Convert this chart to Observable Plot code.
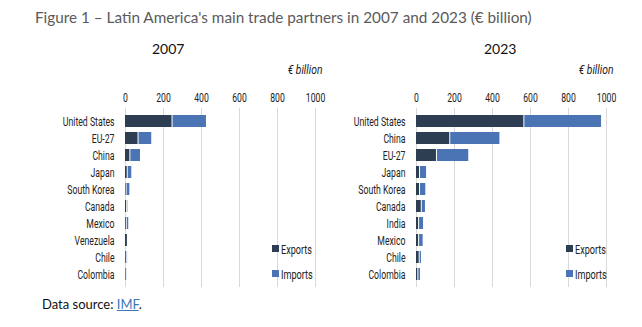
<!DOCTYPE html>
<html><head><meta charset="utf-8">
<script src="https://cdn.jsdelivr.net/npm/d3@7"></script>
<script src="https://cdn.jsdelivr.net/npm/@observablehq/plot@0.6"></script>
<style>
body{margin:0;background:#fff;}
#wrap{position:relative;width:642px;height:327px;overflow:hidden;font-family:Roboto,sans-serif;color:#222;}
.abs{position:absolute;white-space:nowrap;line-height:1;}
.title{font-family:Lato,sans-serif;font-size:15.3px;color:#5a5a5a;left:35px;top:10px;}
.year{font-family:Lato,sans-serif;font-size:14px;color:#111;}
.unit{font-style:italic;font-size:12px;color:#222;transform:scaleX(0.86);transform-origin:right center;}
.leg{font-size:13px;color:#222;transform:scaleX(0.7);transform-origin:left center;}
.sw{position:absolute;width:6.5px;height:6.5px;}
.src{font-family:Lato,sans-serif;font-size:13px;color:#111;left:42px;top:298px;}
.src a{color:#3a78b5;text-decoration:underline;}
</style></head><body><div id="wrap"></div>
<script>
const partners2007 = ["United States","EU-27","China","Japan","South Korea","Canada","Mexico","Venezuela","Chile","Colombia"];
const exports2007 = [245,66,23,9,3,6,4,10,4,3];
const imports2007 = [181,72,56,24,20,7,13,4,7,6];
const partners2023 = ["United States","China","EU-27","Japan","South Korea","Canada","India","Mexico","Chile","Colombia"];
const exports2023 = [565,175,105,16,16,25,11,11,14,7];
const imports2023 = [409,264,170,37,33,22,26,24,12,14];
const xTicks = [0,200,400,600,800,1000];
const seriesNames = ["Exports","Imports"];
const colExp = "#2d3d52", colImp = "#4a74b4";

const wrap = document.getElementById("wrap");
function addDiv(cls, html, style){
  const d = document.createElement("div");
  d.className = "abs " + cls;
  d.innerHTML = html;
  Object.assign(d.style, style);
  wrap.appendChild(d);
  return d;
}
// horizontally condense SVG texts around their anchor point (must be in the DOM)
function condense(svg, selector, s, anchor){
  svg.querySelectorAll(selector).forEach(t=>{
    const b = t.getBBox();
    const ax = anchor === "end" ? b.x + b.width : b.x + b.width/2;
    const tr = t.getAttribute("transform")||"";
    t.setAttribute("transform", `${tr} translate(${ax},0) scale(${s},1) translate(${-ax},0)`.trim());
  });
}
addDiv("title", "Figure 1 – Latin America's main trade partners in 2007 and 2023 (€ billion)", {});

function panel(partners, exps, imps, left, width, marginLeft, marginRight, year, yearX, unitRight, legX){
  const data = partners.map((p,i)=>({partner:p, exp:exps[i], imp:imps[i]}));
  const chart = Plot.plot({
    width, height: 212,
    marginLeft, marginRight, marginTop: 27.8, marginBottom: 5,
    style:{fontFamily:'Roboto, sans-serif', fontSize:"12px", color:"#222", background:"transparent"},
    x:{domain:[0,1000], axis:null},
    y:{domain:partners, padding:0.28, axis:null},
    marks:[
      Plot.gridX(xTicks, {stroke:"#d9d9d9", strokeOpacity:1}),
      Plot.axisX(xTicks, {anchor:"top", label:null, tickSize:0, tickPadding:6, tickFormat:d=>String(d), fontSize:12}),
      Plot.axisY({label:null, tickSize:0, tickPadding:11, fontSize:13}),
      Plot.barX(data, {y:"partner", x1:0, x2:"exp", fill:colExp}),
      Plot.barX(data, {y:"partner", x1:"exp", x2:d=>d.exp+d.imp, fill:colImp, insetLeft:1})
    ]
  });
  chart.style.position = "absolute";
  chart.style.left = left + "px";
  chart.style.top = "80px";
  wrap.appendChild(chart);
  condense(chart, 'g[aria-label="y-axis tick label"] text', 0.67, "end");
  condense(chart, 'g[aria-label="x-axis tick label"] text', 0.72, "middle");
  const yd = addDiv("year", year, {top:"42px"});
  yd.style.left = (yearX - yd.offsetWidth/2) + "px";
  const ud = addDiv("unit", "€ billion", {top:"64px"});
  ud.style.left = (unitRight - ud.offsetWidth) + "px";
  seriesNames.forEach((s,i)=>{
    const y = 245 + i*25;
    const sw = document.createElement("div");
    sw.className = "sw";
    Object.assign(sw.style, {left:legX+"px", top:y+"px", background: i===0?colExp:colImp});
    wrap.appendChild(sw);
    addDiv("leg", s, {left:(legX+9)+"px", top:(y-2.5)+"px"});
  });
}
panel(partners2007, exports2007, imports2007, 0, 330, 125, 15, "2007", 168, 322, 272);
panel(partners2023, exports2023, imports2023, 330, 312, 86, 36, "2023", 500, 613, 566);
addDiv("src", 'Data source: <a href="#">IMF</a>.', {});
</script></body></html>
